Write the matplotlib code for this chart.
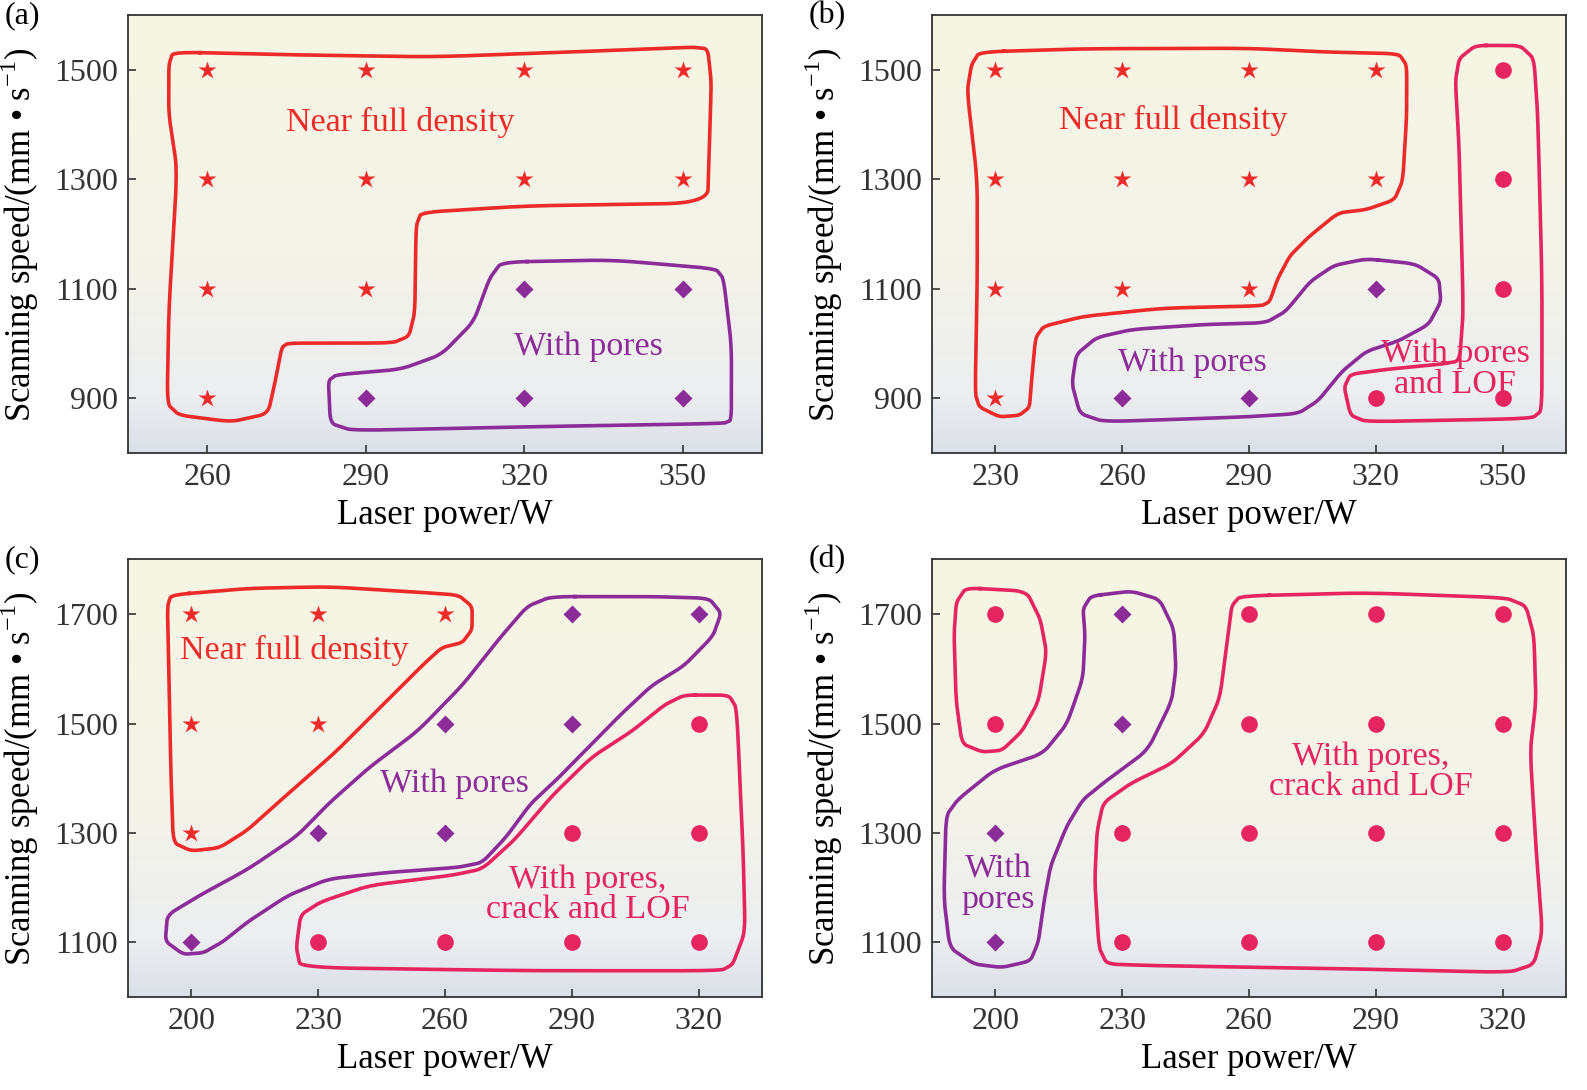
import numpy as np
import matplotlib
matplotlib.use('Agg')
import matplotlib.pyplot as plt
from matplotlib.colors import LinearSegmentedColormap

plt.rcParams['font.family'] = ['Liberation Serif', 'DejaVu Serif']
plt.rcParams['mathtext.fontset'] = 'custom'
plt.rcParams['mathtext.rm'] = 'Liberation Serif'

# colours of the three classes
red = '#ec2a2a'
purple = '#8b2c98'
pink = '#e6245f'

# ---- panel (a) ----
a_xticks = [260, 290, 320, 350]
a_yticks = [900, 1100, 1300, 1500]
a_star = [(260, 1500), (290, 1500), (320, 1500), (350, 1500),
          (260, 1300), (290, 1300), (320, 1300), (350, 1300),
          (260, 1100), (290, 1100), (260, 900)]
a_diam = [(320, 1100), (350, 1100), (290, 900), (320, 900), (350, 900)]
a_circ = []
a_red = [(253.5, 1533), (275.3, 1528), (302.7, 1524), (328.7, 1533), (351.6, 1542), (354.7, 1539),
         (355.4, 1479), (355.0, 1359), (354.7, 1257), (321.1, 1252), (300.5, 1240),
         (299.5, 1215), (299.3, 1059), (298.2, 1014), (295.1, 1001), (275.3, 1001), (274.1, 993),
         (273.0, 938), (271.5, 872), (264.6, 857), (254.7, 869), (252.4, 890),
         (252.7, 1059), (254.3, 1317), (252.7, 1419), (252.7, 1509)]
a_purple = [(315.7, 1149), (336.3, 1153), (356.2, 1137), (357.7, 1119), (359.2, 998), (359.2, 860),
            (357.7, 854), (321.1, 848), (287.5, 841), (283.3, 854), (282.9, 932), (284.4, 943),
            (296.6, 953), (304.3, 980), (310.4, 1040), (313.4, 1119)]

# ---- panel (b) ----
b_xticks = [230, 260, 290, 320, 350]
b_yticks = [900, 1100, 1300, 1500]
b_star = [(230, 1500), (260, 1500), (290, 1500), (320, 1500),
          (230, 1300), (260, 1300), (290, 1300), (320, 1300),
          (230, 1100), (260, 1100), (290, 1100), (230, 900)]
b_diam = [(320, 1100), (260, 900), (290, 900)]
b_circ = [(350, 1500), (350, 1300), (350, 1100), (320, 900), (350, 900)]
b_red = [(226.2, 1533), (251.0, 1539), (289.2, 1540), (308.2, 1533), (325.4, 1530),
         (327.3, 1509), (327.3, 1419), (326.4, 1299), (324.4, 1263), (317.8, 1245), (311.1, 1239),
         (304.4, 1197), (299.7, 1161), (296.8, 1119), (294.9, 1077), (293.0, 1069),
         (270.1, 1065), (251.0, 1050), (241.5, 1032), (239.5, 1011),
         (238.6, 938), (238.1, 884), (235.7, 869), (231.0, 866), (226.2, 884), (225.2, 908),
         (225.7, 1119), (225.7, 1299), (223.3, 1461), (224.3, 1509)]
b_purple = [(317.8, 1155), (329.2, 1146), (334.9, 1119), (335.4, 1077), (332.5, 1035), (325.4, 1005),
            (317.8, 986), (312.1, 950), (306.4, 896), (301.6, 872), (289.2, 866), (255.8, 857),
            (250.0, 872), (248.1, 926), (249.1, 980), (253.9, 1011), (262.4, 1026), (279.6, 1035),
            (293.9, 1038), (298.7, 1059), (304.4, 1113), (310.1, 1143)]
b_pink = [(343.6, 1545), (354.1, 1545), (357.4, 1521), (358.3, 1419), (359.3, 1119), (359.3, 878),
          (356.9, 863), (317.8, 857), (314.0, 869), (312.5, 920), (314.0, 944), (322.6, 953),
          (335.0, 962), (339.8, 968), (340.7, 1059), (339.7, 1359), (338.8, 1479), (339.7, 1521)]

# ---- panel (c) ----
c_xticks = [200, 230, 260, 290, 320]
c_yticks = [1100, 1300, 1500, 1700]
c_star = [(200, 1700), (230, 1700), (260, 1700), (200, 1500), (230, 1500), (200, 1300)]
c_diam = [(290, 1700), (320, 1700), (260, 1500), (290, 1500), (230, 1300), (260, 1300), (200, 1100)]
c_circ = [(320, 1500), (290, 1300), (320, 1300), (230, 1100), (260, 1100), (290, 1100), (320, 1100)]
c_red = [(195.2, 1735), (213.4, 1747), (232.5, 1750), (251.6, 1741), (263.1, 1735), (266.4, 1714),
         (266.4, 1672), (264.1, 1648), (259.3, 1639), (255.4, 1612), (246.8, 1546), (234.4, 1450),
         (222.9, 1372), (213.4, 1306), (206.7, 1273), (200.0, 1267), (195.7, 1282), (195.2, 1390),
         (194.7, 1570), (194.3, 1714)]
c_purple = [(285.1, 1732), (309.0, 1732), (322.4, 1729), (325.3, 1702), (323.4, 1660), (316.6, 1606),
            (309.0, 1570), (302.3, 1522), (294.6, 1462), (287.0, 1402), (280.3, 1354), (274.6, 1294),
            (268.8, 1246), (263.1, 1237), (246.8, 1228), (232.5, 1216), (222.9, 1186), (213.4, 1138),
            (207.6, 1102), (202.9, 1081), (198.1, 1078), (193.8, 1102), (194.3, 1150), (202.0, 1186),
            (213.4, 1234), (224.9, 1294), (232.5, 1354), (242.1, 1420), (253.5, 1486), (264.1, 1570),
            (272.7, 1654), (279.4, 1714)]
c_pink = [(316.6, 1552), (327.1, 1552), (329.0, 1528), (330.5, 1270), (331.0, 1120), (328.1, 1060),
          (325.3, 1048), (280.3, 1048), (225.8, 1054), (224.8, 1090), (225.8, 1150), (230.6, 1174),
          (242.1, 1204), (261.2, 1222), (268.8, 1234), (276.5, 1288), (285.1, 1366), (294.6, 1438),
          (304.2, 1486), (311.9, 1534)]

# ---- panel (d) ----
d_xticks = [200, 230, 260, 290, 320]
d_yticks = [1100, 1300, 1500, 1700]
d_star = []
d_diam = [(230, 1700), (230, 1500), (200, 1300), (200, 1100)]
d_circ = [(200, 1700), (200, 1500), (260, 1700), (290, 1700), (320, 1700),
          (260, 1500), (290, 1500), (320, 1500), (230, 1300), (260, 1300), (290, 1300), (320, 1300),
          (230, 1100), (260, 1100), (290, 1100), (320, 1100)]
d_pink_small = [(193.0, 1748), (207.3, 1742), (210.6, 1691), (212.1, 1631), (210.2, 1541), (206.4, 1487),
                (201.6, 1451), (196.9, 1448), (192.1, 1463), (190.7, 1541), (190.2, 1661), (190.7, 1721)]
d_purple = [(222.6, 1733), (232.1, 1742), (238.8, 1727), (242.2, 1673), (242.7, 1601), (241.7, 1541),
            (236.0, 1451), (226.5, 1397), (220.7, 1361), (216.9, 1313), (213.1, 1241), (211.6, 1180),
            (210.2, 1102), (208.3, 1066), (201.6, 1054), (195.0, 1060), (189.2, 1090), (187.8, 1180),
            (188.3, 1331), (191.1, 1361), (199.7, 1415), (211.2, 1445), (216.9, 1499), (220.7, 1583),
            (221.2, 1661), (220.7, 1709)]
d_pink = [(257.9, 1733), (287.4, 1739), (320.7, 1730), (325.5, 1715), (327.4, 1661), (327.9, 1541),
          (326.5, 1451), (327.9, 1271), (329.4, 1120), (327.4, 1060), (321.7, 1045), (287.4, 1051),
          (239.8, 1057), (226.4, 1060), (224.5, 1090), (223.5, 1210), (224.0, 1301), (225.5, 1355),
          (232.1, 1391), (241.7, 1427), (249.3, 1481), (253.1, 1547), (255.0, 1661), (255.9, 1715)]


def chaikin(pts, n=4):
    # round the hand drawn outline (midpoints first so corners stay tight)
    pts = np.asarray(pts, float)
    nxt = np.roll(pts, -1, axis=0)
    dense = np.empty((2 * len(pts), 2))
    dense[0::2] = pts
    dense[1::2] = 0.5 * (pts + nxt)
    pts = dense
    for _ in range(n):
        nxt = np.roll(pts, -1, axis=0)
        q = 0.75 * pts + 0.25 * nxt
        r = 0.25 * pts + 0.75 * nxt
        new = np.empty((2 * len(pts), 2))
        new[0::2] = q
        new[1::2] = r
        pts = new
    return np.vstack([pts, pts[:1]])


bg = LinearSegmentedColormap.from_list('bg', [(0.0, '#dbe0e8'), (0.13, '#eceef0'),
                                              (0.45, '#f4f3e9'), (1.0, '#f7f5e2')])


def draw_panel(ax, xlim, ylim, xticks, yticks, stars, diams, circs, outlines, labels, tag):
    grad = np.linspace(0, 1, 256).reshape(-1, 1)
    ax.imshow(grad, extent=[0, 1, 0, 1], transform=ax.transAxes, aspect='auto',
              cmap=bg, origin='lower', zorder=0)
    for pts, col in outlines:
        sm = chaikin(pts)
        ax.plot(sm[:, 0], sm[:, 1], color=col, lw=2.6, solid_joinstyle='round', zorder=2)
    if stars:
        p, s = zip(*stars)
        ax.plot(p, s, ls='none', marker='*', ms=13.5, color=red, mec='none', zorder=3)
    if diams:
        p, s = zip(*diams)
        ax.plot(p, s, ls='none', marker='D', ms=9.5, color=purple, mec='none', zorder=3)
    if circs:
        p, s = zip(*circs)
        ax.plot(p, s, ls='none', marker='o', ms=12, color=pink, mec='none', zorder=3)
    for x, y, txt, col in labels:
        ax.text(x, y, txt, color=col, fontsize=24.5, ha='center', va='center',
                linespacing=1.0, zorder=4)
    ax.set_xlim(xlim)
    ax.set_ylim(ylim)
    ax.set_xticks(xticks)
    ax.set_yticks(yticks)
    ax.tick_params(direction='in', length=6, width=1.2, labelsize=23, pad=7, colors='#333333')
    for sp in ax.spines.values():
        sp.set_linewidth(1.3)
        sp.set_color('#333333')
    ax.set_xlabel('Laser power/W', fontsize=25)
    ax.set_ylabel('Scanning speed/(mm • s$^{\\mathregular{-1}}$)', fontsize=25)
    ax.xaxis.set_label_coords(0.5, -0.105)
    ax.yaxis.set_label_coords(-0.137, 0.5)
    ax.text(-0.195, 1.0, tag, transform=ax.transAxes, fontsize=23, ha='left', va='center')


fig = plt.figure(figsize=(15.87, 10.90), dpi=100)
w, h = 0.3995, 0.4015
ax_a = fig.add_axes([0.0807, 0.5844, w, h])
ax_b = fig.add_axes([0.5873, 0.5844, w, h])
ax_c = fig.add_axes([0.0807, 0.0853, w, h])
ax_d = fig.add_axes([0.5873, 0.0853, w, h])

draw_panel(ax_a, (245, 365), (800, 1600), a_xticks, a_yticks, a_star, a_diam, a_circ,
           [(a_red, red), (a_purple, purple)],
           [(296.6, 1404, 'Near full density', red), (332.1, 995, 'With pores', purple)], '(a)')
draw_panel(ax_b, (215, 365), (800, 1600), b_xticks, b_yticks, b_star, b_diam, b_circ,
           [(b_red, red), (b_purple, purple), (b_pink, pink)],
           [(272.0, 1407, 'Near full density', red), (276.6, 965, 'With pores', purple),
            (338.8, 953, 'With pores\nand LOF', pink)], '(b)')
draw_panel(ax_c, (185, 335), (1000, 1800), c_xticks, c_yticks, c_star, c_diam, c_circ,
           [(c_red, red), (c_purple, purple), (c_pink, pink)],
           [(224.4, 1633, 'Near full density', red), (262.1, 1390, 'With pores', purple),
            (293.7, 1187, 'With pores,\ncrack and LOF', pink)], '(c)')
draw_panel(ax_d, (185, 335), (1000, 1800), d_xticks, d_yticks, d_star, d_diam, d_circ,
           [(d_pink_small, pink), (d_purple, purple), (d_pink, pink)],
           [(288.8, 1412, 'With pores,\ncrack and LOF', pink), (200.7, 1205, 'With\npores', purple)], '(d)')

fig.savefig('out.png', dpi=100)
